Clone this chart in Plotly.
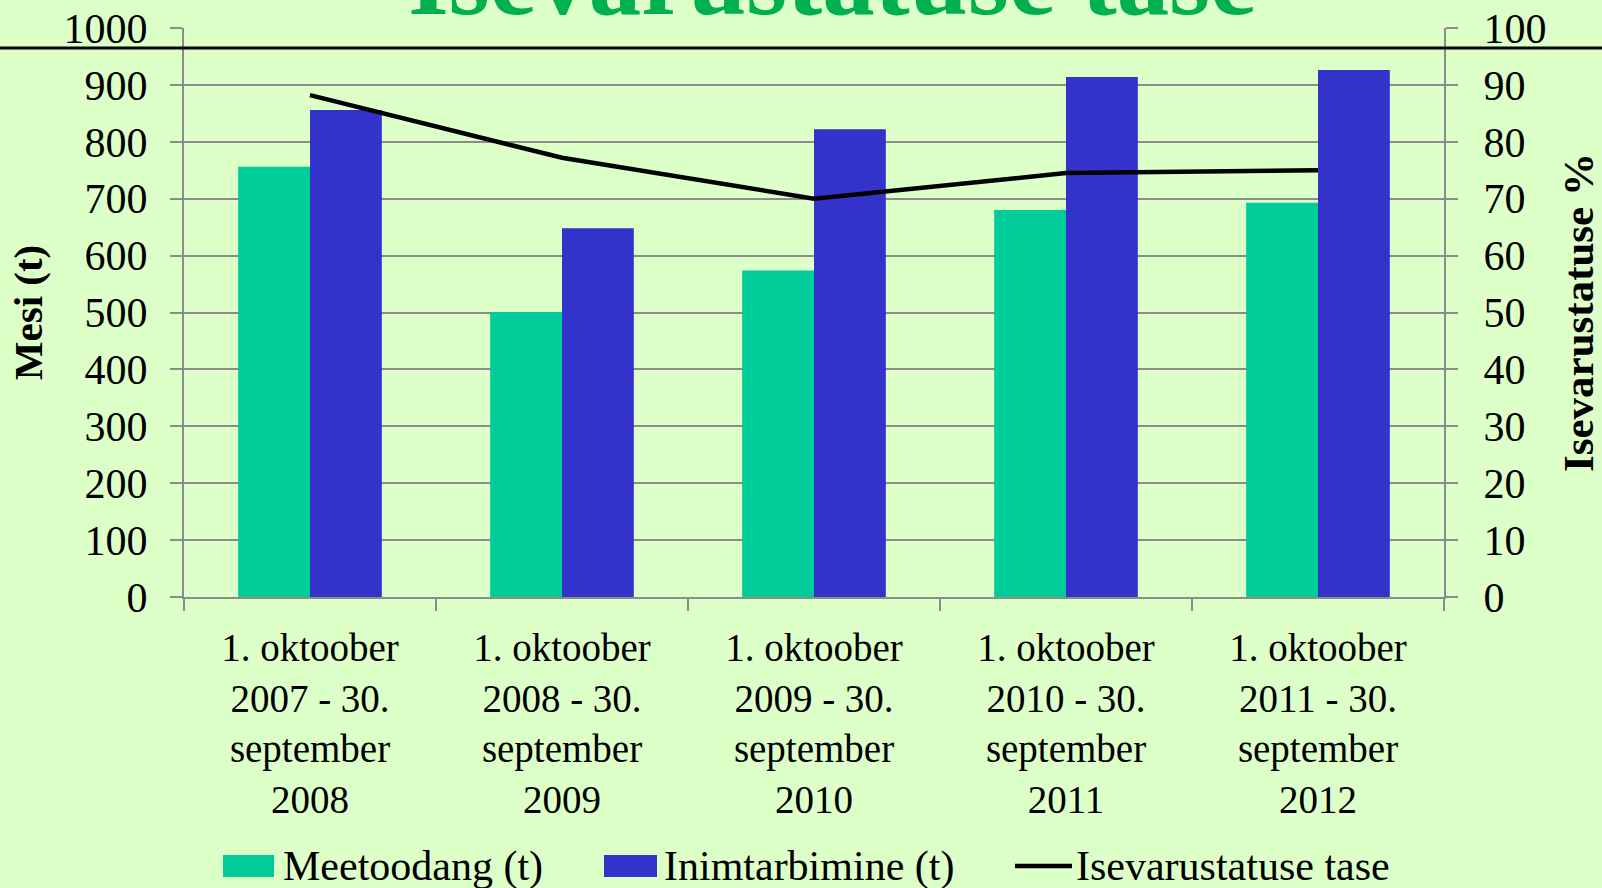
import plotly.graph_objects as go

categories = ["1. oktoober<br>2007 - 30.<br>september<br>2008",
              "1. oktoober<br>2008 - 30.<br>september<br>2009",
              "1. oktoober<br>2009 - 30.<br>september<br>2010",
              "1. oktoober<br>2010 - 30.<br>september<br>2011",
              "1. oktoober<br>2011 - 30.<br>september<br>2012"]
meetoodang = [756, 501, 574, 680, 693]
inimtarbimine = [856, 648, 822, 914, 926]
isevarustatus = [88.2, 77.2, 70.0, 74.5, 75.0]

series_names = ["Meetoodang (t)", "Inimtarbimine (t)", "Isevarustatuse tase"]
series_colors = ["#00cc99", "#3333cc", "black"]

FONT = "Liberation Serif"
BG = "#ddffc8"
GRID = "#8c8c8c"

W, H = 1602, 888
L, R, T, B = 184, 158, 28, 291
PW, PH = W - L - R, H - T - B


def px(x):
    return (x - L) / PW


def py(y):
    return (H - B - y) / PH


fig = go.Figure()
fig.add_trace(go.Bar(x=categories, y=meetoodang, name=series_names[0],
                     marker=dict(color=series_colors[0], line=dict(width=0))))
fig.add_trace(go.Bar(x=categories, y=inimtarbimine, name=series_names[1],
                     marker=dict(color=series_colors[1], line=dict(width=0))))
fig.add_trace(go.Scatter(x=categories, y=isevarustatus, name=series_names[2],
                         mode="lines", line=dict(color=series_colors[2], width=4.5), yaxis="y2"))

fig.update_layout(
    width=W, height=H,
    paper_bgcolor=BG, plot_bgcolor=BG,
    margin=dict(l=L, r=R, t=T, b=B, pad=0, autoexpand=False),
    barmode="group", bargap=0.43, bargroupgap=0,
    font=dict(family=FONT, size=42, color="black"),
    showlegend=False,
    xaxis=dict(type="category", showgrid=False, showline=True, linecolor=GRID, linewidth=2,
               ticks="outside", tickson="boundaries", ticklen=12, tickcolor=GRID, tickwidth=2,
               tickfont=dict(family=FONT, size=39), ticklabelstandoff=15, automargin=False),
    yaxis=dict(range=[0, 1000], dtick=100, showgrid=True, gridcolor=GRID, gridwidth=2,
               showline=True, linecolor=GRID, linewidth=2, ticks="outside", ticklen=12,
               tickcolor=GRID, tickwidth=2, zeroline=False, automargin=False,
               tickfont=dict(family=FONT, size=42), ticklabelstandoff=14,
               title=dict(text="<b>Mesi (t)</b>", font=dict(family=FONT, size=41), standoff=8)),
    yaxis2=dict(range=[0, 100], dtick=10, overlaying="y", side="right", showgrid=False,
                showline=True, linecolor=GRID, linewidth=2, ticks="outside", ticklen=12,
                tickcolor=GRID, tickwidth=2, zeroline=False, automargin=False,
                tickfont=dict(family=FONT, size=42), ticklabelstandoff=17,
                title=dict(text="<b>Isevarustatuse %</b>", font=dict(family=FONT, size=43), standoff=19)),
)

# title (clipped at top as in the reference)
fig.add_annotation(text="<b>Isevarustatuse tase</b>", xref="paper", yref="paper",
                   x=px(833), y=py(15), xanchor="center", yanchor="bottom",
                   showarrow=False, font=dict(family=FONT, size=105, color="#00b050"), yshift=-24)

# horizontal rule under the title
fig.add_shape(type="line", xref="paper", yref="paper", x0=px(0), x1=px(W),
              y0=py(48), y1=py(48), line=dict(color="black", width=3), layer="above")

# legend
leg_y = 866
sym = [(223, 274), (604, 657), (1015, 1072)]
txt_x = [281, 662, 1074]
for i in range(3):
    x0, x1 = sym[i]
    if i < 2:
        fig.add_shape(type="rect", xref="paper", yref="paper", x0=px(x0), x1=px(x1),
                      y0=py(877), y1=py(855), fillcolor=series_colors[i], line=dict(width=0))
    else:
        fig.add_shape(type="line", xref="paper", yref="paper", x0=px(x0), x1=px(x1),
                      y0=py(leg_y), y1=py(leg_y), line=dict(color=series_colors[i], width=4.5))
    fig.add_annotation(text=series_names[i], xref="paper", yref="paper", x=px(txt_x[i]), y=py(leg_y),
                       xanchor="left", yanchor="middle", showarrow=False,
                       font=dict(family=FONT, size=42, color="black"))

fig.write_html("out.html", config={"displayModeBar": False},
               post_script="document.body.style.margin='0';document.body.style.overflow='hidden';"
                           "document.body.style.background='" + BG + "';")
